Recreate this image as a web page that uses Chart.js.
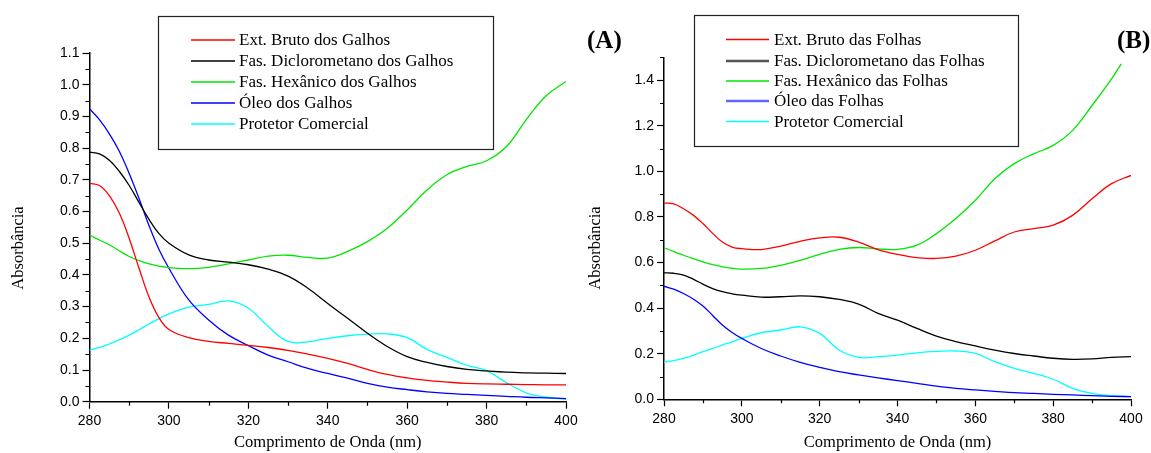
<!DOCTYPE html>
<html><head><meta charset="utf-8">
<script src="https://cdn.jsdelivr.net/npm/chart.js@4.4.1/dist/chart.umd.min.js"></script>
<style>
html,body{margin:0;padding:0;background:#fff;}
#wrap{position:relative;width:1151px;height:453px;overflow:hidden;background:#fff;}
#wrap canvas{position:absolute;left:0;top:0;}
</style></head><body>
<div id="wrap"><canvas id="cA" width="1151" height="453"></canvas><canvas id="cB" width="1151" height="453"></canvas></div>
<script>
// ---------- data ----------
const wavelengths = [280,282.5,285,287.5,290,292.5,295,297.5,300,305,310,315,320,325,330,335,340,345,350,355,360,365,370,375,380,385,390,395,400];
const xTickValues = [280,300,320,340,360,380,400];

// Panel A (Galhos)
const labelsA = ['Ext. Bruto dos Galhos','Fas. Diclorometano dos Galhos','Fas. Hexânico dos Galhos','Óleo dos Galhos','Protetor Comercial'];
const brutoGalhos = [0.689,0.682,0.65,0.595,0.515,0.42,0.33,0.265,0.228,0.202,0.19,0.184,0.178,0.171,0.162,0.150,0.137,0.121,0.102,0.086,0.075,0.067,0.062,0.058,0.056,0.055,0.054,0.053,0.053];
const dicloroGalhos = [0.787,0.782,0.762,0.727,0.682,0.628,0.575,0.53,0.50,0.463,0.447,0.440,0.432,0.418,0.396,0.358,0.31,0.263,0.216,0.174,0.142,0.124,0.111,0.102,0.097,0.093,0.091,0.090,0.089];
const hexanicoGalhos = [0.526,0.51,0.495,0.476,0.458,0.445,0.435,0.428,0.423,0.42,0.424,0.435,0.447,0.459,0.462,0.455,0.453,0.474,0.505,0.547,0.605,0.668,0.716,0.742,0.760,0.805,0.89,0.965,1.01];
const oleoGalhos = [0.924,0.89,0.845,0.79,0.72,0.64,0.555,0.48,0.421,0.321,0.258,0.21,0.177,0.147,0.126,0.105,0.089,0.074,0.058,0.046,0.038,0.031,0.026,0.023,0.020,0.017,0.014,0.012,0.010];
const protetorA = [0.163,0.171,0.182,0.195,0.21,0.227,0.245,0.262,0.277,0.298,0.307,0.318,0.295,0.237,0.19,0.189,0.2,0.208,0.213,0.214,0.202,0.165,0.14,0.115,0.098,0.06,0.028,0.014,0.008];
const yTicksA = [0.0,0.1,0.2,0.3,0.4,0.5,0.6,0.7,0.8,0.9,1.0,1.1];

// Panel B (Folhas)
const labelsB = ['Ext. Bruto das Folhas','Fas. Diclorometano das Folhas','Fas. Hexânico das Folhas','Óleo das Folhas','Protetor Comercial'];
const brutoFolhas = [0.861,0.857,0.836,0.808,0.771,0.728,0.69,0.668,0.661,0.657,0.672,0.693,0.708,0.711,0.69,0.657,0.636,0.622,0.618,0.628,0.654,0.695,0.734,0.749,0.764,0.807,0.88,0.946,0.982];
const dicloroFolhas = [0.555,0.553,0.545,0.527,0.505,0.486,0.472,0.463,0.457,0.448,0.45,0.454,0.45,0.438,0.418,0.377,0.347,0.311,0.277,0.253,0.234,0.216,0.201,0.19,0.18,0.175,0.177,0.184,0.187];
const hexWavelengthsB = [280,282.5,285,287.5,290,292.5,295,297.5,300,305,310,315,320,325,330,335,340,345,350,355,360,365,370,375,380,385,390,395,397.5];
const hexanicoFolhas = [0.666,0.648,0.632,0.617,0.603,0.591,0.581,0.575,0.571,0.574,0.588,0.61,0.636,0.658,0.666,0.66,0.658,0.676,0.727,0.793,0.873,0.968,1.034,1.077,1.114,1.18,1.289,1.406,1.472];
const oleoFolhas = [0.496,0.483,0.464,0.44,0.409,0.368,0.326,0.293,0.267,0.223,0.19,0.162,0.14,0.121,0.107,0.094,0.082,0.07,0.058,0.048,0.041,0.035,0.029,0.026,0.022,0.019,0.016,0.013,0.012];
const protetorB = [0.162,0.17,0.18,0.193,0.209,0.223,0.238,0.252,0.267,0.292,0.304,0.318,0.289,0.216,0.184,0.187,0.194,0.204,0.21,0.212,0.201,0.165,0.136,0.114,0.088,0.048,0.026,0.016,0.012];
const yTicksB = [0.0,0.2,0.4,0.6,0.8,1.0,1.2,1.4];

// ---------- helpers ----------
const pts = (xs, ys) => xs.map((x, i) => ({x, y: ys[i]}));
const COLORS = ['#ff0000','#000000','#00e600','#0000ff','#00ffff'];

function makeDatasets(labels, series, xsList) {
  return series.map((s, i) => ({
    label: labels[i],
    data: pts(xsList[i], s),
    borderColor: COLORS[i],
    backgroundColor: COLORS[i],
    borderWidth: 1.3,
    pointRadius: 0,
    fill: false,
    tension: 0.4
  }));
}

const decorPlugin = {
  id: 'decor',
  afterDraw(chart, args, o) {
    const ctx = chart.ctx;
    const xs = chart.scales.x, ys = chart.scales.y;
    ctx.save();
    // minor ticks
    ctx.strokeStyle = '#000';
    ctx.lineWidth = 1.2;
    ctx.beginPath();
    for (let v = xs.min + o.xMinor; v < xs.max - 1e-6; v += o.xMinor * 2) {
      const px = Math.round(xs.getPixelForValue(v)) + 0.5;
      ctx.moveTo(px, ys.bottom);
      ctx.lineTo(px, ys.bottom + 4);
    }
    for (let v = ys.min + o.yMinor; v <= ys.max + 1e-6; v += o.yMinor * 2) {
      const py = Math.round(ys.getPixelForValue(v)) + 0.5;
      ctx.moveTo(xs.left, py);
      ctx.lineTo(xs.left - 4, py);
    }
    ctx.stroke();

    // legend box
    const L = o.legend;
    ctx.strokeStyle = '#222';
    ctx.lineWidth = 1.2;
    ctx.strokeRect(L.left + 0.5, L.top + 0.5, L.right - L.left, L.bottom - L.top);
    ctx.font = '17px "Liberation Serif"';
    ctx.textAlign = 'left';
    ctx.textBaseline = 'middle';
    chart.data.datasets.forEach((ds, i) => {
      const y = L.rows[i];
      const st = (L.styles && L.styles[i]) || {};
      ctx.strokeStyle = st.color || ds.borderColor;
      ctx.lineWidth = st.width || 1.3;
      ctx.beginPath();
      ctx.moveTo(L.lineX1, y);
      ctx.lineTo(L.lineX2, y);
      ctx.stroke();
      ctx.fillStyle = '#000';
      ctx.fillText(ds.label, L.textX, y + 1);
    });

    // y axis title
    ctx.save();
    ctx.translate(o.yTitle.x, o.yTitle.y);
    ctx.rotate(-Math.PI / 2);
    ctx.font = '16.5px "Liberation Serif"';
    ctx.textAlign = 'center';
    ctx.textBaseline = 'middle';
    ctx.fillStyle = '#000';
    ctx.fillText(o.yTitle.text, 0, 0);
    ctx.restore();

    // panel letter
    ctx.font = 'bold 25px "Liberation Serif"';
    ctx.textAlign = 'left';
    ctx.textBaseline = 'alphabetic';
    ctx.fillStyle = '#000';
    ctx.fillText(o.letter.text, o.letter.x, o.letter.y);
    ctx.restore();
  }
};

function makeChart(canvasId, datasets, cfg) {
  return new Chart(document.getElementById(canvasId), {
    type: 'line',
    data: { datasets },
    plugins: [decorPlugin],
    options: {
      responsive: false,
      animation: false,
      events: [],
      layout: { padding: cfg.padding },
      plugins: {
        legend: { display: false },
        tooltip: { enabled: false },
        decor: cfg.decor
      },
      scales: {
        x: {
          type: 'linear',
          min: 280, max: 400,
          afterFit: s => { s.height = cfg.xHeight; },
          afterBuildTicks: s => { s.ticks = xTickValues.map(v => ({value: v})); },
          ticks: {
            color: '#000', padding: 4,
            font: { family: 'Liberation Sans', size: 14 },
            maxRotation: 0, autoSkip: false,
            callback: v => String(v)
          },
          grid: { drawOnChartArea: false, drawTicks: true, tickLength: 7, tickColor: '#000', tickWidth: 1.2 },
          border: { display: true, color: '#000', width: 1.5 },
          title: {
            display: true, text: 'Comprimento de Onda (nm)', color: '#000',
            font: { family: 'Liberation Serif', size: 16.5 },
            padding: { top: 0, bottom: 0 }
          }
        },
        y: {
          type: 'linear',
          min: 0, max: cfg.yMax,
          bounds: 'data',
          afterFit: s => { s.width = cfg.yWidth; },
          afterBuildTicks: s => { s.ticks = cfg.yTicks.map(v => ({value: v})); },
          ticks: {
            color: '#000', padding: 3,
            font: { family: 'Liberation Sans', size: 14 },
            autoSkip: false,
            callback: v => Number(v).toFixed(1)
          },
          grid: { drawOnChartArea: false, drawTicks: true, tickLength: 7, tickColor: '#000', tickWidth: 1.2 },
          border: { display: true, color: '#000', width: 1.5 }
        }
      }
    }
  });
}

const W = 1151;
makeChart('cA',
  makeDatasets(labelsA, [brutoGalhos, dicloroGalhos, hexanicoGalhos, oleoGalhos, protetorA],
    [wavelengths, wavelengths, wavelengths, wavelengths, wavelengths]),
  {
    padding: { left: 0, top: 53, right: W - 566, bottom: 0 },
    xHeight: 51.3, yWidth: 89.5, yMax: 1.1, yTicks: yTicksA,
    decor: {
      xMinor: 10, yMinor: 0.05,
      legend: { left: 158, top: 16, right: 493, bottom: 149, lineX1: 191, lineX2: 235, textX: 239, rows: [40, 61, 82, 103, 124] },
      yTitle: { text: 'Absorbância', x: 19, y: 248 },
      letter: { text: '(A)', x: 587, y: 48 }
    }
  });

makeChart('cB',
  makeDatasets(labelsB, [brutoFolhas, dicloroFolhas, hexanicoFolhas, oleoFolhas, protetorB],
    [wavelengths, wavelengths, hexWavelengthsB, wavelengths, wavelengths]),
  {
    padding: { left: 575, top: 57.4, right: W - 1131, bottom: 0 },
    xHeight: 53.7, yWidth: 89, yMax: 1.5, yTicks: yTicksB,
    decor: {
      xMinor: 10, yMinor: 0.1,
      legend: { left: 694, top: 15, right: 1018, bottom: 146, lineX1: 726, lineX2: 769, textX: 774, rows: [39.5, 61, 81, 101, 121.5],
        styles: [{}, {color: '#555555', width: 2.4}, {}, {color: '#6464ff', width: 2.6}, {}] },
      yTitle: { text: 'Absorbância', x: 596, y: 248 },
      letter: { text: '(B)', x: 1117, y: 48 }
    }
  });
</script>
</body></html>
